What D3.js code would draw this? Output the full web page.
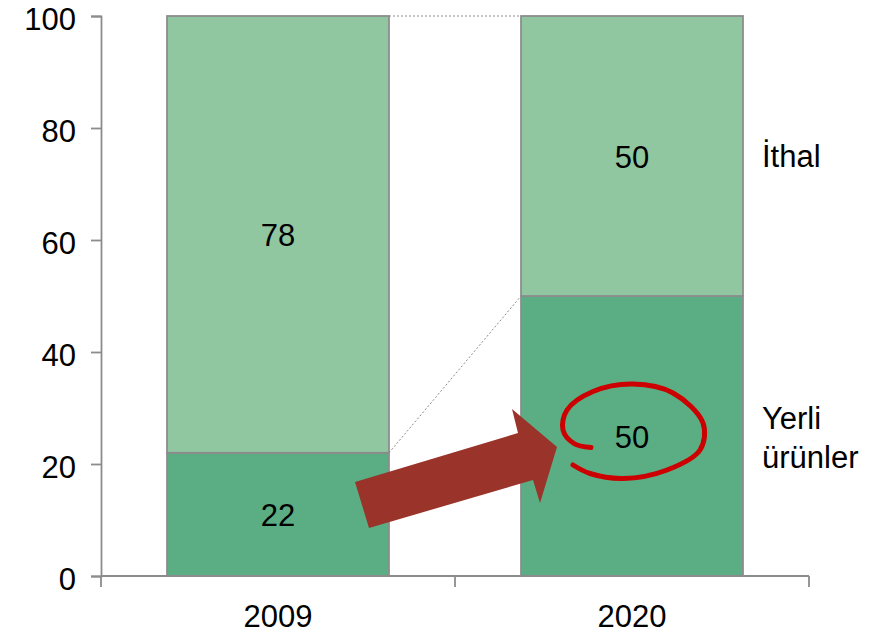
<!DOCTYPE html>
<html>
<head>
<meta charset="utf-8">
<script src="https://cdn.jsdelivr.net/npm/d3@7"></script>
<style>
  html, body { margin: 0; padding: 0; background: #fff; }
  svg { display: block; font-family: "Liberation Sans", Arial, sans-serif; }
</style>
</head>
<body>
<svg id="chart" width="880" height="633"></svg>
<script>
// Share of domestic vs imported products, in percent
const categories = ["2009", "2020"];
const domestic = [22, 50];   // Yerli ürünler
const imported = [78, 50];   // İthal
const yTicks = [0, 20, 40, 60, 80, 100];
const seriesLabels = ["Yerli ürünler", "İthal"];

const svg = d3.select("#chart");
const margin = { left: 101, right: 71, top: 16, bottom: 57 };
const W = 880, H = 633;

const x = d3.scaleBand()
  .domain(categories)
  .range([margin.left, W - margin.right])
  .paddingInner(0.373)
  .paddingOuter(0.1865);

const xOuter = d3.scaleBand()
  .domain(categories)
  .range([margin.left, W - margin.right]);

const y = d3.scaleLinear().domain([0, 100]).range([H - margin.bottom, margin.top]);

const colors = { domestic: "#5bae84", imported: "#90c6a0", stroke: "#8c8c8c" };
const fontSize = 31;

// stacked data
const stacked = categories.map((c, i) => ({
  cat: c,
  segs: [
    { key: "domestic", y0: 0, y1: domestic[i], v: domestic[i] },
    { key: "imported", y0: domestic[i], y1: domestic[i] + imported[i], v: imported[i] }
  ]
}));

// connector lines between bars
const connectors = [
  [x("2009") + x.bandwidth(), y(domestic[0]), x("2020"), y(domestic[1])],
  [x("2009") + x.bandwidth(), y(domestic[0] + imported[0]), x("2020"), y(domestic[1] + imported[1])]
];
svg.append("g").selectAll("line").data(connectors).join("line")
  .attr("x1", d => d[0]).attr("y1", d => d[1])
  .attr("x2", d => d[2]).attr("y2", d => d[3])
  .attr("stroke", "#8c8c8c").attr("stroke-width", 1)
  .attr("stroke-dasharray", "2,2");

// bars
const groups = svg.append("g").selectAll("g").data(stacked).join("g");
groups.selectAll("rect").data(d => d.segs.map(s => ({ ...s, cat: d.cat }))).join("rect")
  .attr("x", d => x(d.cat))
  .attr("width", x.bandwidth())
  .attr("y", d => y(d.y1))
  .attr("height", d => y(d.y0) - y(d.y1))
  .attr("fill", d => colors[d.key])
  .attr("stroke", colors.stroke)
  .attr("stroke-width", 1.8);

// value labels
groups.selectAll("text").data(d => d.segs.map(s => ({ ...s, cat: d.cat }))).join("text")
  .attr("x", d => x(d.cat) + x.bandwidth() / 2)
  .attr("y", d => y((d.y0 + d.y1) / 2))
  .attr("dy", "0.39em")
  .attr("text-anchor", "middle")
  .attr("font-size", fontSize)
  .attr("fill", "#000")
  .text(d => d.v);

// y axis
const yAxis = svg.append("g")
  .attr("transform", `translate(${margin.left},0)`)
  .call(d3.axisLeft(y).tickValues(yTicks).tickSize(10).tickPadding(15));
yAxis.select(".domain").attr("stroke", "#8c8c8c").attr("stroke-width", 1.8);
yAxis.selectAll(".tick line").attr("stroke", "#8c8c8c").attr("stroke-width", 1.8);
yAxis.selectAll(".tick text").attr("font-size", fontSize).attr("fill", "#000")
  .attr("dy", "0.42em")
  .attr("font-family", "Liberation Sans, Arial, sans-serif");

// x axis with boundary ticks between categories
const xAxisG = svg.append("g").attr("transform", `translate(0,${y(0)})`);
xAxisG.append("line")
  .attr("x1", margin.left).attr("x2", W - margin.right)
  .attr("stroke", "#8c8c8c").attr("stroke-width", 1.8);
const bounds = [margin.left, ...categories.map(c => xOuter(c) + xOuter.bandwidth())];
xAxisG.selectAll("line.tk").data(bounds).join("line").attr("class", "tk")
  .attr("x1", d => d).attr("x2", d => d).attr("y1", 0).attr("y2", 11)
  .attr("stroke", "#8c8c8c").attr("stroke-width", 1.8);
xAxisG.selectAll("text").data(categories).join("text")
  .attr("x", d => x(d) + x.bandwidth() / 2)
  .attr("y", 51)
  .attr("text-anchor", "middle")
  .attr("font-size", fontSize)
  .text(d => d);

// series labels on the right
const lastIdx = categories.length - 1;
const labelX = x(categories[lastIdx]) + x.bandwidth() + 19;
svg.append("text")
  .attr("x", labelX)
  .attr("y", y(domestic[lastIdx] + imported[lastIdx] / 2))
  .attr("dy", "0.36em")
  .attr("font-size", fontSize)
  .text(seriesLabels[1]);
const yl = svg.append("text")
  .attr("x", labelX)
  .attr("y", y(domestic[lastIdx] / 2) - 7)
  .attr("font-size", fontSize);
yl.append("tspan").attr("x", labelX).text("Yerli");
yl.append("tspan").attr("x", labelX).attr("dy", 39).text("ürünler");

// highlight arrow pointing from the 2009 domestic share to the 2020 one
const arrowPts = [[355, 482], [518, 433], [512, 409], [557, 447], [540, 503], [533, 480], [369, 528]];
svg.append("polygon")
  .attr("points", arrowPts.map(p => p.join(",")).join(" "))
  .attr("fill", "#9a3329");

// hand-drawn ring around the 2020 domestic value
const ring = [[591, 447.5], [574, 443.5], [563, 430], [567, 410], [593, 391.5], [633, 384],
  [673, 393], [703, 423], [700, 450], [667, 470], [623, 478.5], [590, 473.5], [573, 465]];
svg.append("path")
  .attr("d", d3.line().curve(d3.curveCatmullRom)(ring))
  .attr("fill", "none")
  .attr("stroke", "#cc0000")
  .attr("stroke-width", 5)
  .attr("stroke-linecap", "round");
</script>
</body>
</html>
